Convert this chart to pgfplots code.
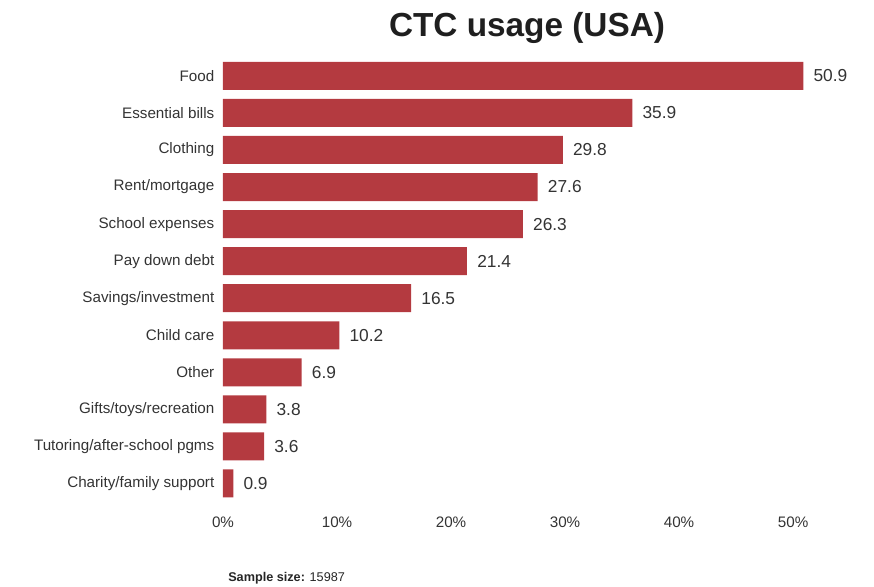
\documentclass[border=0pt]{standalone}
\usepackage{pgfplots}
\pgfplotsset{compat=1.18}
\usepackage{fontspec}
\setmainfont{Liberation Sans}
\definecolor{barred}{RGB}{180,58,64}
\definecolor{txt}{RGB}{51,51,51}
\begin{document}
\begin{tikzpicture}
\begin{axis}[
    xbar,
    scale only axis,
    width=470.3pt, height=333.5pt,
    xmin=0, xmax=55, ymin=-0.5, ymax=11.5,
    bar width=21pt,
    axis line style={draw=none},
    major tick length=0pt,
    /pgf/number format/assume math mode=true,
    xtick={0,10,...,50},
    xticklabels={0\%,10\%,20\%,30\%,40\%,50\%},
    ytick={0,...,11},
    yticklabels={Charity/family support,Tutoring/after-school pgms,Gifts/toys/recreation,Other,Child care,Savings/investment,Pay down debt,School expenses,Rent/mortgage,Clothing,Essential bills,Food},
    ticklabel style={font=\fontsize{11.4}{13}\selectfont, text=txt},
    xticklabel style={yshift=-8pt},
    yticklabel style={xshift=-3pt},
    nodes near coords={\pgfmathprintnumber[fixed,fixed zerofill,precision=1,assume math mode=true]{\pgfplotspointmeta}},
    every node near coord/.append style={font=\fontsize{13}{15}\selectfont, text=txt, anchor=west, inner sep=0pt, xshift=7.5pt},
    ]
    \addplot[draw=none, fill=barred] coordinates {
        (0.9,0) (3.6,1) (3.8,2) (6.9,3) (10.2,4) (16.5,5)
        (21.4,6) (26.3,7) (27.6,8) (29.8,9) (35.9,10) (50.9,11)};
\end{axis}
\node[font=\bfseries\fontsize{25}{28}\selectfont, text=black!88] at (228pt,355.5pt) {CTC usage (USA)};
\node[anchor=west, inner sep=0pt, font=\fontsize{9.5}{11}\selectfont, text=black!85] at (3.75pt,-57pt) {\textbf{Sample size:} 15987};
\pgfresetboundingbox
\useasboundingbox (-167.25pt,-63pt) rectangle (488.25pt,376.5pt);
\end{tikzpicture}
\end{document}
